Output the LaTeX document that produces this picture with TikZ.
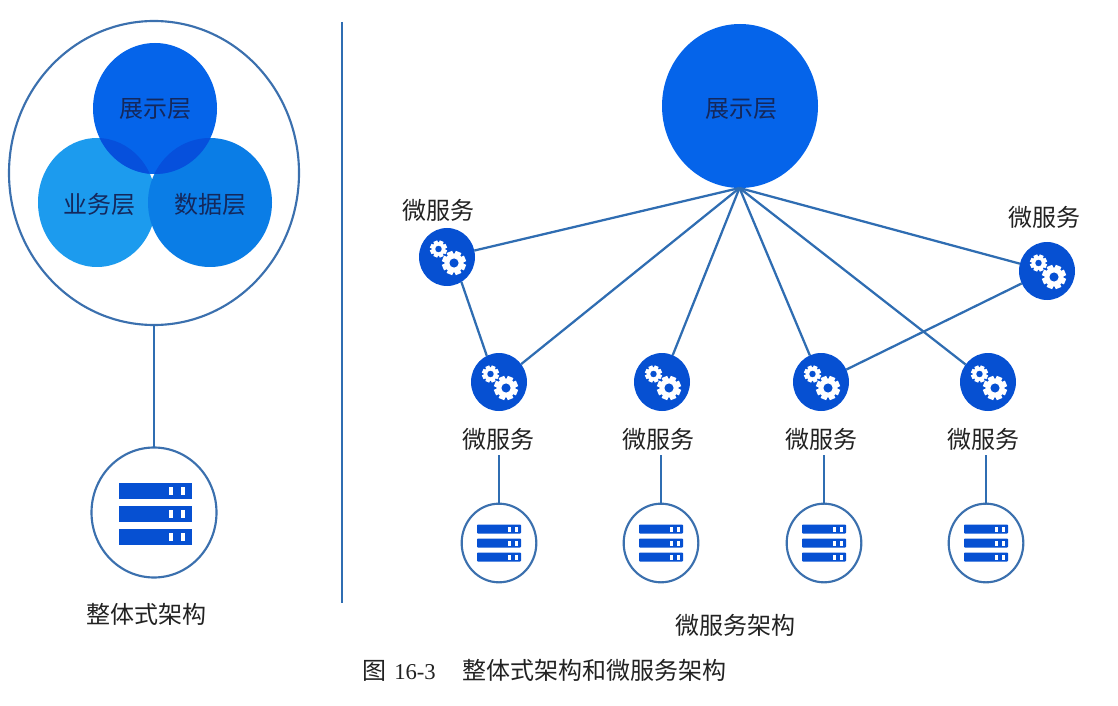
\documentclass[tikz,border=0pt]{standalone}
\usepackage{fontspec}
\setmainfont{Liberation Serif}
\newfontfamily\cjk{Noto Sans CJK SC}
\usetikzlibrary{shapes.geometric}
\definecolor{lineblue}{HTML}{2F6DB2}
\definecolor{ringblue}{HTML}{3B70AE}
\definecolor{topblue}{HTML}{0564EA}
\definecolor{overlapblue}{HTML}{0650DC}
\definecolor{bizblue}{HTML}{1C9BEE}
\definecolor{datablue}{HTML}{0A7DE6}
\definecolor{gearblue}{HTML}{0650D2}
\definecolor{navy}{HTML}{14285C}
\definecolor{inkgrey}{HTML}{222222}
\tikzset{
  x=0.75pt,y=-0.75pt,
  connector/.style={draw=lineblue,line width=1.7pt},
  ring/.style={ellipse,draw=ringblue,line width=1.6pt,fill=white,inner sep=0pt,outer sep=0pt},
  blob/.style={ellipse,inner sep=0pt,outer sep=0pt,text=navy,font=\cjk\fontsize{18}{20}\selectfont},
  gearnode/.style={ellipse,fill=gearblue,minimum width=42pt,minimum height=43.5pt,inner sep=0pt,outer sep=0pt},
  lbl/.style={text=inkgrey,font=\cjk\fontsize{18}{20}\selectfont,inner sep=0pt},
  gearwheel/.pic={
    \fill[white] (0,0) circle (0.8);
    \foreach \a in {0,45,...,315}{\fill[white,rotate=\a+22.5] (-0.25,0.6) rectangle (0.25,1);}
    \fill[gearblue] (0,0) circle (0.38);
  },
}
% gear circle: name, x, y
\newcommand\gearat[3]{%
  \node[gearnode] (#1) at (#2,#3) {};
  \pic[scale=8.5] at (#2-8.5,#3-8) {gearwheel};
  \pic[scale=12] at (#2+7,#3+6) {gearwheel};
}
% small server: name, x, y
\newcommand\serverat[3]{%
  \node[ring,minimum width=56pt,minimum height=59pt] (#1) at (#2,#3) {};
  \foreach \dy in {-14,0,14}{%
    \fill[gearblue,rounded corners=0.6pt] (#2-22,#3+\dy-4.5) rectangle (#2+22,#3+\dy+4.5);
    \fill[white] (#2+8.5,#3+\dy-2.5) rectangle (#2+11.5,#3+\dy+2.5);
    \fill[white] (#2+15.5,#3+\dy-2.5) rectangle (#2+18.5,#3+\dy+2.5);
  }%
}
\begin{document}
\begin{tikzpicture}
\useasboundingbox (0,0) rectangle (1118,706);
% left panel
\node[ring,minimum width=217.5pt,minimum height=228pt] (mono) at (154,173) {};
\node[blob,fill=bizblue,minimum width=88.5pt,minimum height=96.75pt] (biz) at (97,202.5) {};
\node[blob,fill=datablue,minimum width=93pt,minimum height=96.75pt] (data) at (210,202.5) {};
\node[blob,fill=topblue,minimum width=93pt,minimum height=98.25pt] (top) at (155,108.5) {};
\begin{scope}
  \clip (155,108.5) ellipse [x radius=62,y radius=65.5];
  \fill[overlapblue] (97,202.5) ellipse [x radius=59,y radius=64.5];
  \fill[overlapblue] (210,202.5) ellipse [x radius=62,y radius=64.5];
\end{scope}
\node[lbl,text=navy] at (155,109) {展示层};
\node[lbl,text=navy] at (99,204) {业务层};
\node[lbl,text=navy] at (210,204) {数据层};
\node[ring,minimum width=93.75pt,minimum height=97.5pt] (monosrv) at (154,512.5) {};
\foreach \y in {491,514,537}{%
  \fill[gearblue] (119,\y-8) rectangle (192,\y+8);
  \fill[white] (169,\y-4) rectangle (173,\y+4);
  \fill[white] (181,\y-4) rectangle (185,\y+4);
}
\draw[connector] (mono.south) -- (monosrv.north);
\node[lbl] (monolbl) at (146,614) {整体式架构};
% divider
\coordinate (divtop) at (342,22);
\coordinate (divbot) at (342,603);
\draw[connector] (divtop) -- (divbot);
% right panel
\node[blob,fill=topblue,minimum width=117pt,minimum height=123pt] (ui) at (740,106) {};
\node[lbl,text=navy] at (741,109) {展示层};
\coordinate (hub) at (739.5,188);
\gearat{g1}{447}{257}
\gearat{g2}{499}{382}
\gearat{g3}{662}{382}
\gearat{g4}{821}{382}
\gearat{g5}{988}{382}
\gearat{g6}{1047}{271}
\draw[connector] (hub) -- (g1);
\draw[connector] (hub) -- (g2);
\draw[connector] (hub) -- (g3);
\draw[connector] (hub) -- (g4);
\draw[connector] (hub) -- (g5);
\draw[connector] (hub) -- (g6);
\draw[connector] (g1.300) -- (g2.115);
\draw[connector] (g6) -- (g4);
\node[lbl] (l1) at (438,210) {微服务};
\node[lbl] (l6) at (1044,217) {微服务};
\node[lbl] (l2) at (498,439) {微服务};
\node[lbl] (l3) at (658,439) {微服务};
\node[lbl] (l4) at (821,439) {微服务};
\node[lbl] (l5) at (983,439) {微服务};
\serverat{s2}{499}{543}
\serverat{s3}{661}{543}
\serverat{s4}{824}{543}
\serverat{s5}{986}{543}
\coordinate (t2) at (499,455);
\coordinate (t3) at (661,455);
\coordinate (t4) at (824,455);
\coordinate (t5) at (986,455);
\draw[connector] (t2) -- (s2.north);
\draw[connector] (t3) -- (s3.north);
\draw[connector] (t4) -- (s4.north);
\draw[connector] (t5) -- (s5.north);
\node[lbl] (micro) at (735,625) {微服务架构};
\node[lbl,anchor=west] (cap) at (362,670) {\cjk 图\hspace{6pt}{\rmfamily\fontsize{17}{20}\selectfont 16-3}\hspace{20pt}\cjk 整体式架构和微服务架构};
\end{tikzpicture}
\end{document}
